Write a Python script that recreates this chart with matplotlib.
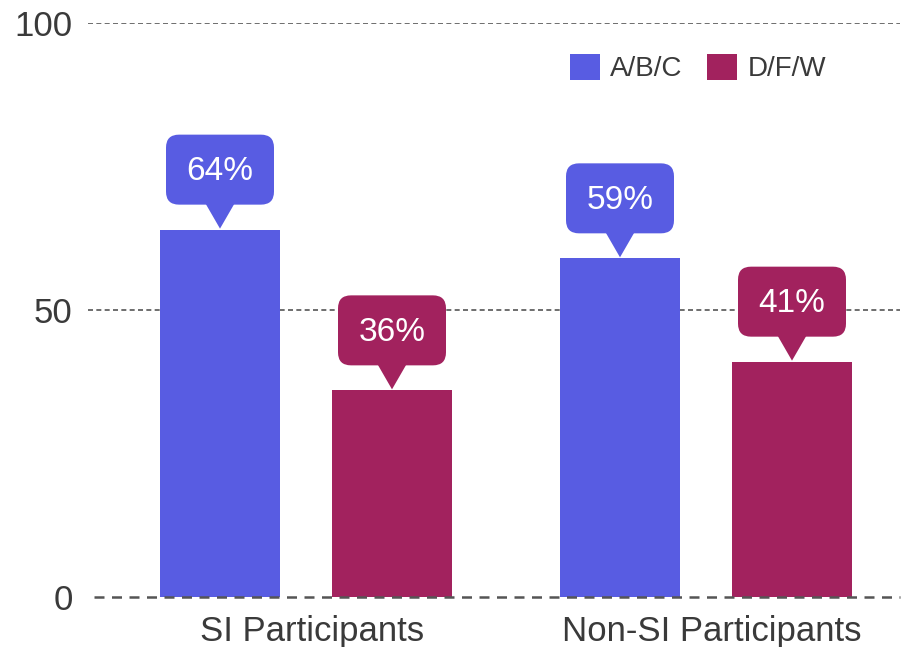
import matplotlib
matplotlib.use("Agg")
import matplotlib.pyplot as plt
import matplotlib.transforms as mtransforms
from matplotlib.patches import FancyBboxPatch, Polygon, Patch
import numpy as np

plt.rcParams['font.family'] = ['Liberation Sans', 'DejaVu Sans']

groups = ['SI Participants', 'Non-SI Participants']
series = ['A/B/C', 'D/F/W']
abc = [64, 59]
dfw = [36, 41]
colors = ['#585ce2', '#a2225e']

fig = plt.figure(figsize=(9.02, 6.47), dpi=100)
ax = fig.add_axes([88 / 902, 50 / 647, 812 / 902, 574 / 647])

x = np.arange(len(groups))
w = 0.3
off = 0.215

for vals, sign, col in [(abc, -1, colors[0]), (dfw, 1, colors[1])]:
    xs = x + sign * off
    ax.bar(xs, vals, width=w, color=col, zorder=2)
    for xi, v in zip(xs, vals):
        # callout anchored at top centre of the bar, shape in inches
        trans = fig.dpi_scale_trans + mtransforms.ScaledTranslation(xi, v, ax.transData)
        px = 1 / 100
        box = FancyBboxPatch((-54 * px, 25 * px), 108 * px, 70 * px,
                             boxstyle="round,pad=0,rounding_size=0.13",
                             transform=trans, facecolor=col, edgecolor='none',
                             zorder=4, clip_on=False)
        ax.add_patch(box)
        tri = Polygon([(-15 * px, 27 * px), (15 * px, 27 * px), (0, 1 * px)],
                      closed=True, transform=trans, facecolor=col,
                      edgecolor='none', zorder=4, clip_on=False)
        ax.add_patch(tri)
        ax.annotate(f'{v}%', xy=(xi, v), xytext=(0, 58), textcoords='offset pixels',
                    ha='center', va='center', color='white', fontsize=24, zorder=5)

ax.set_xlim(-0.545, 1.485)
ax.set_ylim(0, 100)
ax.set_yticks([0, 50, 100])
ax.set_yticklabels(['0', '50', '100'])
ax.set_xticks(x + 0.015)
ax.set_xticklabels(groups)
ax.tick_params(axis='both', length=0, labelsize=25, labelcolor='#3a3a3a')
ax.tick_params(axis='y', pad=11)
ax.tick_params(axis='x', pad=13)
for s in ax.spines.values():
    s.set_visible(False)

for yv in [50, 100]:
    ax.axhline(yv, color='#555555', lw=1.2, ls=(0, (3, 2)), zorder=1)
ax.plot([-0.53, 1.485], [0, 0], color='#555555', lw=1.8, ls=(0, (4, 3)),
        zorder=3, clip_on=False)

handles = [Patch(facecolor=c, edgecolor='none') for c in colors]
fig.legend(handles, series, loc='center right', bbox_to_anchor=(826 / 902, 1 - 68 / 647),
           ncol=2, frameon=False, fontsize=20, handlelength=1.08, handleheight=1.08,
           handletextpad=0.36, columnspacing=0.9, borderpad=0, borderaxespad=0,
           labelcolor='#3a3a3a')

fig.savefig('out.png', dpi=100)
